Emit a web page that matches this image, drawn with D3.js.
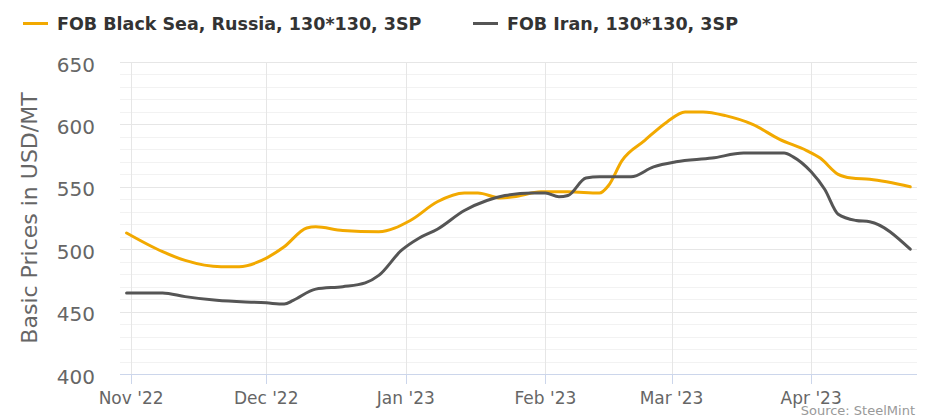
<!DOCTYPE html>
<html>
    <head>
        <meta charset="utf-8" />
        <script src="https://d3js.org/d3.v7.min.js"></script>
        <style>
            body {
                margin: 0;
                background: #fff;
            }

            text {
                font-family: "DejaVu Sans", sans-serif;
            }

            .grid-major {
                stroke: #e6e6e6;
                stroke-width: 1px;
            }

            .grid-minor {
                stroke: #f2f2f2;
                stroke-width: 1px;
            }

            .series {
                fill: none;
                stroke-width: 3px;
                stroke-linejoin: round;
                stroke-linecap: round;
            }
        </style>
    </head>
    <body>
        <svg id="chart" width="932" height="420"></svg>
        <script>
            var svg = d3.select("#chart");

            // series names and colours
            var seriesNames = ["FOB Black Sea, Russia, 130*130, 3SP", "FOB Iran, 130*130, 3SP"];
            var seriesColors = ["#f2a900", "#555555"];

            // FOB Black Sea, Russia (date, USD/MT)
            var russiaDates = ["2022-10-31", "2022-11-08", "2022-11-13", "2022-11-21", "2022-11-25", "2022-11-30",
                "2022-12-05", "2022-12-10", "2022-12-12", "2022-12-18", "2022-12-26", "2023-01-02", "2023-01-08",
                "2023-01-14", "2023-01-17", "2023-01-22", "2023-01-25", "2023-01-31", "2023-02-06", "2023-02-13",
                "2023-02-15", "2023-02-18", "2023-02-23", "2023-02-28", "2023-03-04", "2023-03-08", "2023-03-13",
                "2023-03-19", "2023-03-25", "2023-03-31", "2023-04-03", "2023-04-07", "2023-04-10", "2023-04-14",
                "2023-04-23"];
            var russiaValues = [513, 498, 491, 486, 486, 491,
                502, 517, 518, 515, 514, 523, 538,
                545, 545, 541, 542, 546, 546, 545,
                551, 571, 587, 602, 610, 610, 607,
                600, 588, 579, 573, 560, 557, 556,
                550];

            // FOB Iran (date, USD/MT)
            var iranDates = ["2022-10-31", "2022-11-08", "2022-11-13", "2022-11-20", "2022-12-01", "2022-12-05",
                "2022-12-07", "2022-12-12", "2022-12-18", "2022-12-23", "2022-12-26", "2022-12-31", "2023-01-04",
                "2023-01-08", "2023-01-14", "2023-01-19", "2023-01-23", "2023-01-29", "2023-02-01", "2023-02-04",
                "2023-02-06", "2023-02-10", "2023-02-13", "2023-02-20", "2023-02-25", "2023-03-02", "2023-03-10",
                "2023-03-17", "2023-03-26", "2023-03-28", "2023-04-01", "2023-04-04", "2023-04-07", "2023-04-11",
                "2023-04-14", "2023-04-23"];
            var iranValues = [465, 465, 462, 459, 457, 456,
                459, 468, 470, 473, 479, 499, 509,
                516, 531, 539, 543, 545, 545, 542,
                543, 557, 558, 558, 566, 570, 573,
                577, 577, 574, 562, 548, 528, 523,
                522, 500];

            // axis ticks
            var yTicks = [400, 450, 500, 550, 600, 650];
            var monthTicks = ["2022-11-01", "2022-12-01", "2023-01-01", "2023-02-01", "2023-03-01", "2023-04-01"];
            var monthLabels = ["Nov '22", "Dec '22", "Jan '23", "Feb '23", "Mar '23", "Apr '23"];

            var parse = d3.utcParse("%Y-%m-%d");

            var plotLeft = 120, plotRight = 917, plotTop = 62, plotBottom = 374;

            var x = d3.scaleUtc()
                .domain([new Date(Date.UTC(2022, 9, 29, 13)), new Date(Date.UTC(2023, 3, 24, 12))])
                .range([plotLeft, plotRight]);

            var y = d3.scaleLinear()
                .domain([400, 650])
                .range([plotBottom, plotTop]);

            // minor horizontal grid
            svg.append("g").selectAll("line")
                .data(d3.range(400, 651, 10).filter(function(v) { return v % 50 != 0; }))
                .enter().append("line")
                .attr("class", "grid-minor")
                .attr("x1", plotLeft).attr("x2", plotRight)
                .attr("y1", function(d) { return Math.round(y(d)) + 0.5; })
                .attr("y2", function(d) { return Math.round(y(d)) + 0.5; });

            // major horizontal grid
            svg.append("g").selectAll("line")
                .data(yTicks.slice(1))
                .enter().append("line")
                .attr("class", "grid-major")
                .attr("x1", plotLeft).attr("x2", plotRight)
                .attr("y1", function(d) { return Math.round(y(d)) + 0.5; })
                .attr("y2", function(d) { return Math.round(y(d)) + 0.5; });

            // vertical grid at months
            svg.append("g").selectAll("line")
                .data(monthTicks)
                .enter().append("line")
                .attr("class", "grid-major")
                .attr("x1", function(d) { return Math.round(x(parse(d))) + 0.5; })
                .attr("x2", function(d) { return Math.round(x(parse(d))) + 0.5; })
                .attr("y1", plotTop).attr("y2", plotBottom);

            // x axis line + ticks
            svg.append("line")
                .attr("x1", plotLeft).attr("x2", plotRight)
                .attr("y1", plotBottom + 0.5).attr("y2", plotBottom + 0.5)
                .attr("stroke", "#ccd6eb");

            svg.append("g").selectAll("line")
                .data(monthTicks)
                .enter().append("line")
                .attr("x1", function(d) { return Math.round(x(parse(d))) + 0.5; })
                .attr("x2", function(d) { return Math.round(x(parse(d))) + 0.5; })
                .attr("y1", plotBottom).attr("y2", plotBottom + 10)
                .attr("stroke", "#ccd6eb");

            svg.append("g").selectAll("text")
                .data(monthTicks)
                .enter().append("text")
                .attr("x", function(d) { return x(parse(d)); })
                .attr("y", 404)
                .attr("text-anchor", "middle")
                .attr("font-size", 17)
                .attr("fill", "#666")
                .text(function(d, i) { return monthLabels[i]; });

            // y labels
            svg.append("g").selectAll("text")
                .data(yTicks)
                .enter().append("text")
                .attr("x", 95)
                .attr("y", function(d) { return y(d); })
                .attr("dy", "0.48em")
                .attr("text-anchor", "end")
                .attr("font-size", 20)
                .attr("fill", "#666")
                .text(function(d) { return d; });

            svg.append("text")
                .attr("transform", "translate(37," + ((plotTop + plotBottom) / 2) + ") rotate(-90)")
                .attr("text-anchor", "middle")
                .attr("font-size", 22)
                .attr("fill", "#666")
                .text("Basic Prices in USD/MT");

            // lines
            var line = d3.line()
                .x(function(d) { return x(d.date); })
                .y(function(d) { return y(d.value); })
                .curve(d3.curveMonotoneX);

            var seriesData = [
                russiaDates.map(function(d, i) { return { date: parse(d), value: russiaValues[i] }; }),
                iranDates.map(function(d, i) { return { date: parse(d), value: iranValues[i] }; })
            ];

            svg.append("g").selectAll("path")
                .data(seriesData)
                .enter().append("path")
                .attr("class", "series")
                .attr("stroke", function(d, i) { return seriesColors[i]; })
                .attr("d", line);

            // legend
            var legendX = [23, 473];
            var legend = svg.append("g").selectAll("g")
                .data(seriesNames)
                .enter().append("g")
                .attr("transform", function(d, i) { return "translate(" + legendX[i] + ",0)"; });

            legend.append("line")
                .attr("x1", 0).attr("x2", 25)
                .attr("y1", 23.5).attr("y2", 23.5)
                .attr("stroke-width", 3)
                .attr("stroke", function(d, i) { return seriesColors[i]; });

            legend.append("text")
                .attr("x", 34)
                .attr("y", 30)
                .attr("font-size", 17.5)
                .attr("font-weight", "bold")
                .attr("fill", "#333")
                .text(function(d) { return d; });

            // credits
            svg.append("text")
                .attr("x", 915)
                .attr("y", 415)
                .attr("text-anchor", "end")
                .attr("font-size", 13)
                .attr("fill", "#999")
                .text("Source: SteelMint");
        </script>
    </body>
</html>
